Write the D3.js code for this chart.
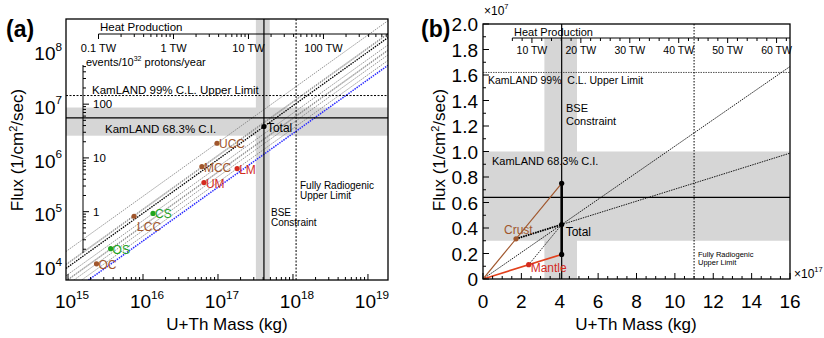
<!DOCTYPE html>
<html>
<head>
<meta charset="utf-8">
<script src="https://cdn.jsdelivr.net/npm/d3@7"></script>
<style>
  body { margin: 0; background: #fff; }
  text { font-family: "Liberation Sans", Arial, sans-serif; fill: #000; }
</style>
</head>
<body>
<svg id="chart" width="824" height="338"></svg>
<script>
// ---- data, panel (a): reservoirs (mass kg, flux 1/cm2/s)
const resNames = ['OC', 'OS', 'LCC', 'CS', 'MCC', 'UCC', 'UM', 'LM']
const resGroup = ['crust', 'sediment', 'crust', 'sediment', 'crust', 'crust', 'mantle', 'mantle']
const resMass = [2.4e15, 3.7e15, 7.6e15, 1.36e16, 6.1e16, 9.7e16, 6.5e16, 1.8e17]
const resFlux = [1.2e4, 2.3e4, 9.2e4, 1.04e5, 7.7e5, 2.1e6, 3.9e5, 7.1e5]
const totalA = [4.1e17, 4.3e6]
const lowerRatio = 3.2e-12            // blue dotted line, flux per kg
const kamland = [2.9e6, 6.2e6, 9.7e6]  // low, central, high
const kamlandUpper = 1.62e7
const bseMass = [3.2e17, 4.1e17, 4.9e17]
const radiogenicMass = 1.1e18
const kgPerTW = 2.55e16
const fluxPerEvent = 1.12e5
const xDecades = [1e15, 1e16, 1e17, 1e18, 1e19]
const yDecades = [1e4, 1e5, 1e6, 1e7, 1e8]
const eventTicks = [1, 10, 100]
const heatTicksA = [0.1, 1, 10, 100]

// ---- data, panel (b)
const crustB = [1.72e17, 3.15e6]
const mantleB = [2.38e17, 1.12e6]
const kamlandB = [0.30e7, 0.64e7, 1.0e7]
const heatTicksB = [10, 20, 30, 40, 50, 60]
const massTicksB = [0, 2, 4, 6, 8, 10, 12, 14, 16]
const fluxTicksB = [0, 0.2, 0.4, 0.6, 0.8, 1.0, 1.2, 1.4, 1.6, 1.8, 2.0]

const svg = d3.select('#chart')
const colors = { crust: '#a0562c', sediment: '#1fa41f', mantle: '#d42a1e' }

function supLabel(g, x, y, base, exp, size, anchor) {
  const t = g.append('text').attr('x', x).attr('y', y)
    .attr('font-size', size).attr('text-anchor', anchor || 'middle')
  t.append('tspan').text(base)
  t.append('tspan').attr('dy', -size * 0.5).attr('font-size', size * 0.62).text(exp)
  return t
}

// ================= panel (a) =================
const xa = d3.scaleLog().domain([9.4e14, 1.85e19]).range([66, 388])
const ya = d3.scaleLog().domain([6e3, 4.3e8]).range([280, 19])
const ga = svg.append('g')

ga.append('clipPath').attr('id', 'clipA').append('rect')
  .attr('x', 66).attr('y', 19).attr('width', 322).attr('height', 261)
const pa = ga.append('g').attr('clip-path', 'url(#clipA)')

// bands
pa.append('rect').attr('x', 66).attr('width', 322)
  .attr('y', ya(kamland[2])).attr('height', ya(kamland[0]) - ya(kamland[2]))
  .attr('fill', '#d6d6d6')
pa.append('rect').attr('y', 19).attr('height', 261)
  .attr('x', xa(bseMass[0])).attr('width', xa(bseMass[2]) - xa(bseMass[0]))
  .attr('fill', '#d6d6d6')

// diagonal lines flux = ratio * mass
const diag = (r) => [[xa.domain()[0], r * xa.domain()[0]], [xa.domain()[1], r * xa.domain()[1]]]
const lineA = d3.line().x(d => xa(d[0])).y(d => ya(d[1]))
resNames.forEach((n, i) => {
  pa.append('path').attr('d', lineA(diag(resFlux[i] / resMass[i])))
    .attr('stroke', '#7a7a7a').attr('stroke-width', 0.8).attr('stroke-dasharray', '1.5,1').attr('fill', 'none')
})
pa.append('path').attr('d', lineA(diag(totalA[1] / totalA[0])))
  .attr('stroke', '#000').attr('stroke-width', 1.3).attr('stroke-dasharray', '1.5,1').attr('fill', 'none')
pa.append('path').attr('d', lineA(diag(lowerRatio)))
  .attr('stroke', '#2a2aff').attr('stroke-width', 1.5).attr('stroke-dasharray', '1.5,1').attr('fill', 'none')

// reference lines
pa.append('line').attr('x1', 66).attr('x2', 388).attr('y1', ya(kamland[1])).attr('y2', ya(kamland[1]))
  .attr('stroke', '#000').attr('stroke-width', 1.2)
pa.append('line').attr('x1', 66).attr('x2', 388).attr('y1', ya(kamlandUpper)).attr('y2', ya(kamlandUpper))
  .attr('stroke', '#000').attr('stroke-width', 1).attr('stroke-dasharray', '2,1.5')
pa.append('line').attr('y1', 19).attr('y2', 280).attr('x1', xa(bseMass[1])).attr('x2', xa(bseMass[1]))
  .attr('stroke', '#000').attr('stroke-width', 1.2)
pa.append('line').attr('y1', 19).attr('y2', 280).attr('x1', xa(radiogenicMass)).attr('x2', xa(radiogenicMass))
  .attr('stroke', '#000').attr('stroke-width', 1).attr('stroke-dasharray', '2,1.5')

// points
resNames.forEach((n, i) => {
  const c = colors[resGroup[i]]
  pa.append('circle').attr('cx', xa(resMass[i])).attr('cy', ya(resFlux[i])).attr('r', 2.6).attr('fill', c)
  const below = n === 'LCC'
  ga.append('text').attr('x', xa(resMass[i]) + (below ? 3 : 2)).attr('y', ya(resFlux[i]) + (below ? 15 : 5))
    .attr('font-size', 12).style('fill', c).text(n)
})
pa.append('circle').attr('cx', xa(totalA[0])).attr('cy', ya(totalA[1])).attr('r', 2.6).attr('fill', '#000')
ga.append('text').attr('x', xa(totalA[0]) + 3).attr('y', ya(totalA[1]) + 5).attr('font-size', 12).text('Total')

// heat production axis
const heatA = d3.scaleLog().domain(xa.domain().map(m => m / kgPerTW)).range(xa.range())
const heatMinorA = []
for (let d = 0.1; d < 1000; d *= 10) for (let k = 1; k < 10; k++) if (d * k <= heatA.domain()[1]) heatMinorA.push(d * k)
const hA = ga.append('g').attr('transform', 'translate(0,34)')
hA.append('line').attr('x1', heatA(0.1)).attr('x2', 388).attr('stroke', '#000').attr('stroke-width', 1)
hA.selectAll('.mt').data(heatMinorA).enter().append('line')
  .attr('x1', d => heatA(d)).attr('x2', d => heatA(d)).attr('y1', 0)
  .attr('y2', d => heatTicksA.includes(+d.toPrecision(3)) ? 5 : 3).attr('stroke', '#000')
hA.selectAll('.tl').data(heatTicksA).enter().append('text')
  .attr('x', d => heatA(d)).attr('y', 18).attr('text-anchor', 'middle').attr('font-size', 11)
  .text(d => d + ' TW')
ga.append('text').attr('x', 100).attr('y', 31).attr('font-size', 11.5).text('Heat Production')

// events axis
const evA = d3.scaleLog().domain(ya.domain().map(f => f / fluxPerEvent)).range(ya.range())
const evMinor = []
for (let d = 0.1; d < 1000; d *= 10) for (let k = 1; k < 10; k++) {
  const v = d * k
  if (evA(v) >= 65 && evA(v) <= 253) evMinor.push(v)
}
const eA = ga.append('g').attr('transform', 'translate(83,0)')
eA.append('line').attr('y1', 65).attr('y2', 253).attr('stroke', '#000')
eA.selectAll('.mt').data(evMinor).enter().append('line')
  .attr('y1', d => evA(d)).attr('y2', d => evA(d)).attr('x1', 0)
  .attr('x2', d => eventTicks.includes(+d.toPrecision(3)) ? 6 : 3).attr('stroke', '#000')
eA.selectAll('.tl').data(eventTicks).enter().append('text')
  .attr('x', 10).attr('y', d => evA(d) + 4).attr('font-size', 11.5).text(d => d)
const evLab = ga.append('text').attr('x', 86).attr('y', 66).attr('font-size', 11)
evLab.append('tspan').text('events/10')
evLab.append('tspan').attr('dy', -5).attr('font-size', 7).text('32')
evLab.append('tspan').attr('dy', 5).text(' protons/year')

// annotation text
ga.append('text').attr('x', 92).attr('y', 94).attr('font-size', 11.5).text('KamLAND 99% C.L. Upper Limit')
ga.append('text').attr('x', 105).attr('y', 133).attr('font-size', 11.5).text('KamLAND 68.3% C.I.')
ga.append('text').attr('x', 300).attr('y', 189).attr('font-size', 10).text('Fully Radiogenic')
ga.append('text').attr('x', 300).attr('y', 199).attr('font-size', 10).text('Upper Limit')
ga.append('text').attr('x', 271).attr('y', 216).attr('font-size', 10).text('BSE')
ga.append('text').attr('x', 271).attr('y', 226).attr('font-size', 10).text('Constraint')

// main axes ticks
const xMinorA = [], yMinorA = []
for (let d = 1e14; d < 1e20; d *= 10) for (let k = 1; k < 10; k++) {
  const v = d * k
  if (v >= xa.domain()[0] && v <= xa.domain()[1]) xMinorA.push(v)
  if (v >= ya.domain()[0] && v <= ya.domain()[1]) yMinorA.push(v)
}
const isDec = v => Math.abs(Math.log10(v) - Math.round(Math.log10(v))) < 1e-6
ga.append('g').selectAll('line').data(xMinorA).enter().append('line')
  .attr('x1', d => xa(d)).attr('x2', d => xa(d)).attr('y1', 280).attr('y2', d => isDec(d) ? 274 : 277)
  .attr('stroke', '#000')
ga.append('g').selectAll('line').data(yMinorA).enter().append('line')
  .attr('y1', d => ya(d)).attr('y2', d => ya(d)).attr('x1', 66).attr('x2', d => isDec(d) ? 72 : 69)
  .attr('stroke', '#000')
xDecades.forEach(v => supLabel(ga, xa(v) + 4, 308, '10', Math.round(Math.log10(v)), 19))
yDecades.forEach(v => supLabel(ga, 62, ya(v) + 7, '10', Math.round(Math.log10(v)), 19, 'end'))

ga.append('rect').attr('x', 66).attr('y', 19).attr('width', 322).attr('height', 261)
  .attr('fill', 'none').attr('stroke', '#000').attr('stroke-width', 1.3)

ga.append('text').attr('x', 227).attr('y', 330).attr('text-anchor', 'middle').attr('font-size', 17).text('U+Th Mass (kg)')
const yl = ga.append('text').attr('transform', 'translate(23,150) rotate(-90)').attr('text-anchor', 'middle').attr('font-size', 17)
yl.append('tspan').text('Flux (1/cm')
yl.append('tspan').attr('dy', -6).attr('font-size', 11).text('2')
yl.append('tspan').attr('dy', 6).text('/sec)')
ga.append('text').attr('x', 6).attr('y', 37).attr('font-size', 23).attr('font-weight', 'bold').text('(a)')

// ================= panel (b) =================
const xb = d3.scaleLinear().domain([0, 1.6e18]).range([483, 790])
const yb = d3.scaleLinear().domain([0, 2.0e7]).range([279, 24])
const gb = svg.append('g')
gb.append('clipPath').attr('id', 'clipB').append('rect')
  .attr('x', 483).attr('y', 24).attr('width', 307).attr('height', 255)
const pb = gb.append('g').attr('clip-path', 'url(#clipB)')

pb.append('rect').attr('x', 483).attr('width', 307)
  .attr('y', yb(kamlandB[2])).attr('height', yb(kamlandB[0]) - yb(kamlandB[2])).attr('fill', '#d6d6d6')
pb.append('rect').attr('y', 38).attr('height', 241)
  .attr('x', xb(bseMass[0])).attr('width', xb(bseMass[2]) - xb(bseMass[0])).attr('fill', '#d6d6d6')

const bse = crustB[0] + mantleB[0]
const total = [bse, crustB[1] + mantleB[1]]
const rCrust = crustB[1] / crustB[0], rMantle = mantleB[1] / mantleB[0], rTotal = total[1] / total[0]
const lineB = d3.line().x(d => xb(d[0])).y(d => yb(d[1]))
const xMaxB = xb.domain()[1]

pb.append('line').attr('x1', 483).attr('x2', 790).attr('y1', yb(kamlandB[1])).attr('y2', yb(kamlandB[1]))
  .attr('stroke', '#000').attr('stroke-width', 1.2)
pb.append('line').attr('x1', 483).attr('x2', 790).attr('y1', yb(kamlandUpper)).attr('y2', yb(kamlandUpper))
  .attr('stroke', '#555').attr('stroke-width', 1).attr('stroke-dasharray', '1.5,1')
pb.append('line').attr('y1', 24).attr('y2', 279).attr('x1', xb(bse)).attr('x2', xb(bse))
  .attr('stroke', '#000').attr('stroke-width', 1.2)
pb.append('line').attr('y1', 24).attr('y2', 279).attr('x1', xb(radiogenicMass)).attr('x2', xb(radiogenicMass))
  .attr('stroke', '#000').attr('stroke-width', 1).attr('stroke-dasharray', '1.5,1.5')

const dotted = (pts, w) => pb.append('path').attr('d', lineB(pts)).attr('fill', 'none')
  .attr('stroke', '#000').attr('stroke-width', w).attr('stroke-dasharray', '1.5,1')
dotted([[0, 0], [xMaxB, rTotal * xMaxB]], 0.9)
dotted([crustB, [xMaxB, crustB[1] + rMantle * (xMaxB - crustB[0])]], 0.9)
dotted([crustB, total], 1.8)
dotted([mantleB, total], 0.8)

pb.append('path').attr('d', lineB([[0, 0], [bse, rCrust * bse]])).attr('stroke', '#a0562c').attr('stroke-width', 1.2).attr('fill', 'none')
pb.append('path').attr('d', lineB([[0, 0], [bse, rMantle * bse]])).attr('stroke', '#e2401c').attr('stroke-width', 1.6).attr('fill', 'none')
pb.append('line').attr('x1', xb(bse)).attr('x2', xb(bse)).attr('y1', yb(rMantle * bse)).attr('y2', yb(rCrust * bse))
  .attr('stroke', '#000').attr('stroke-width', 2.6)

const dotsB = [[bse, rCrust * bse, '#000'], [bse, rMantle * bse, '#000'], [total[0], total[1], '#000'],
  [crustB[0], crustB[1], '#a0562c'], [mantleB[0], mantleB[1], '#d42a1e']]
pb.selectAll('.dot').data(dotsB).enter().append('circle')
  .attr('cx', d => xb(d[0])).attr('cy', d => yb(d[1])).attr('r', 2.6).attr('fill', d => d[2])

gb.append('text').attr('x', xb(crustB[0]) - 12).attr('y', yb(crustB[1]) - 5).attr('font-size', 12).style('fill', '#a0562c').text('Crust')
gb.append('text').attr('x', xb(mantleB[0]) + 2).attr('y', yb(mantleB[1]) + 7).attr('font-size', 12).style('fill', '#d42a1e').text('Mantle')
gb.append('text').attr('x', xb(total[0]) + 4).attr('y', yb(total[1]) + 11).attr('font-size', 12).text('Total')

gb.append('text').attr('x', 488).attr('y', 84).attr('font-size', 10.5).style('white-space', 'pre').text('KamLAND 99%  C.L. Upper Limit')
gb.append('text').attr('x', 492).attr('y', 165).attr('font-size', 11).text('KamLAND 68.3% C.I.')
gb.append('text').attr('x', 566).attr('y', 112).attr('font-size', 11).text('BSE')
gb.append('text').attr('x', 566).attr('y', 125).attr('font-size', 11).text('Constraint')
gb.append('text').attr('x', 698).attr('y', 257).attr('font-size', 7.5).text('Fully Radiogenic')
gb.append('text').attr('x', 698).attr('y', 265).attr('font-size', 7.5).text('Upper Limit')

// heat axis (b)
const heatB = d3.scaleLinear().domain(xb.domain().map(m => m / kgPerTW)).range(xb.range())
const heatMinorB = d3.range(6, heatB.domain()[1], 2)
const hB = gb.append('g').attr('transform', 'translate(0,38)')
hB.append('line').attr('x1', heatB(6)).attr('x2', 790).attr('stroke', '#000')
hB.selectAll('.mt').data(heatMinorB).enter().append('line')
  .attr('x1', d => heatB(d)).attr('x2', d => heatB(d)).attr('y1', 0).attr('y2', d => d % 10 === 0 ? 5 : 3).attr('stroke', '#000')
hB.selectAll('.tl').data(heatTicksB).enter().append('text')
  .attr('x', d => heatB(d)).attr('y', 16).attr('text-anchor', 'middle').attr('font-size', 10.5).text(d => d + ' TW')
gb.append('text').attr('x', 514).attr('y', 36).attr('font-size', 11).text('Heat Production')

// axes (b)
gb.append('g').selectAll('line').data(d3.range(0, 16.01, 0.5)).enter().append('line')
  .attr('x1', d => xb(d * 1e17)).attr('x2', d => xb(d * 1e17)).attr('y1', 279).attr('y2', d => d % 2 === 0 ? 273 : 276).attr('stroke', '#000')
gb.append('g').selectAll('line').data(d3.range(0, 2.001, 0.1)).enter().append('line')
  .attr('y1', d => yb(d * 1e7)).attr('y2', d => yb(d * 1e7)).attr('x1', 483).attr('x2', (d, i) => i % 2 === 0 ? 489 : 486).attr('stroke', '#000')
gb.selectAll('.xl').data(massTicksB).enter().append('text')
  .attr('x', d => xb(d * 1e17)).attr('y', 308).attr('text-anchor', 'middle').attr('font-size', 19).text(d => d)
gb.selectAll('.yl').data(fluxTicksB).enter().append('text')
  .attr('x', 478).attr('y', d => yb(d * 1e7) + 7).attr('text-anchor', 'end').attr('font-size', 19)
  .text(d => d === 0 ? '0' : d.toFixed(1))
supLabel(gb, 484, 15, '×10', '7', 12, 'start')
supLabel(gb, 794, 278, '×10', '17', 12, 'start')

gb.append('rect').attr('x', 483).attr('y', 24).attr('width', 307).attr('height', 255)
  .attr('fill', 'none').attr('stroke', '#000').attr('stroke-width', 1.3)

gb.append('text').attr('x', 636).attr('y', 330).attr('text-anchor', 'middle').attr('font-size', 17).text('U+Th Mass (kg)')
const yl2 = gb.append('text').attr('transform', 'translate(445,150) rotate(-90)').attr('text-anchor', 'middle').attr('font-size', 17)
yl2.append('tspan').text('Flux (1/cm')
yl2.append('tspan').attr('dy', -6).attr('font-size', 11).text('2')
yl2.append('tspan').attr('dy', 6).text('/sec)')
gb.append('text').attr('x', 421).attr('y', 37).attr('font-size', 23).attr('font-weight', 'bold').text('(b)')
</script>
</body>
</html>
